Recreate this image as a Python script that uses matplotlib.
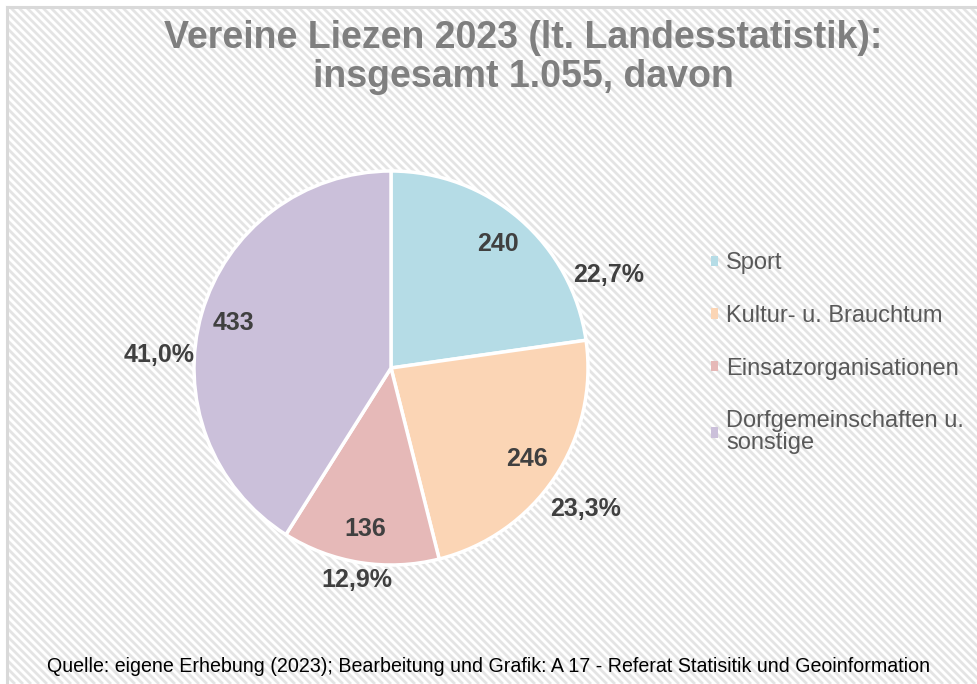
import numpy as np
import matplotlib.pyplot as plt
from matplotlib.patches import Patch
from matplotlib.collections import LineCollection

plt.rcParams['font.family'] = ['Liberation Sans', 'DejaVu Sans']

# data
categories = ['Sport', 'Kultur- u. Brauchtum', 'Einsatzorganisationen',
              'Dorfgemeinschaften u.\nsonstige']
counts = [240, 246, 136, 433]
pct_labels = ['22,7%', '23,3%', '12,9%', '41,0%']
colors = ['#b5dce6', '#fbd5b5', '#e6b9b8', '#cbc0da']

fig = plt.figure(figsize=(9.78, 6.84), dpi=100)
W, H = 978, 684

# hatched background (diagonal stripes, pixel units) with gray frame
bg_ax = fig.add_axes([7 / W, 0, 1 - 7 / W, 1 - 7 / H], zorder=0)
bw, bh = W - 7, H - 7
bg_ax.set_xlim(0, bw)
bg_ax.set_ylim(0, bh)
bg_ax.axis('off')
step = 8
offs = np.arange(0, bw + bh + step, step)
segs = [[(c - bh, bh), (c, 0)] for c in offs]
bg_ax.add_collection(LineCollection(segs, colors='#e4e4e4', linewidths=2.0))
fig.add_artist(plt.Line2D([7 / W, 7 / W], [0, 1 - 7 / H], transform=fig.transFigure,
                          color='#d9d9d9', linewidth=2.2))
fig.add_artist(plt.Line2D([7 / W, 1], [1 - 7 / H, 1 - 7 / H], transform=fig.transFigure,
                          color='#d9d9d9', linewidth=2.2))

# pie axes: centre (391, 368), radius ~197 px
r = 197
ax = fig.add_axes([(391 - r) / W, (H - 368 - r) / H, 2 * r / W, 2 * r / H], zorder=2)
ax.patch.set_visible(False)
wedges, _ = ax.pie(counts, colors=colors, startangle=90, counterclock=False,
                   wedgeprops=dict(edgecolor='white', linewidth=2.5))
ax.set_aspect('equal')
ax.set_xlim(-1, 1)
ax.set_ylim(-1, 1)

# labels
nudge = [-26, -2, 0, 13]
pct_r = [1.2, 1.22, 1.09, 1.18]
for w, c, p, dn, pr in zip(wedges, counts, pct_labels, nudge, pct_r):
    mid = np.deg2rad((w.theta1 + w.theta2) / 2)
    ax.text(0.83 * np.cos(mid), 0.83 * np.sin(mid), str(c), ha='center', va='center',
            fontsize=18, fontweight='bold', color='#404040')
    a = mid + np.deg2rad(dn)
    ax.text(pr * np.cos(a), pr * np.sin(a), p, ha='center', va='center',
            fontsize=18, fontweight='bold', color='#404040', clip_on=False)

fig.text(523 / W, 1 - 38 / H, 'Vereine Liezen 2023 (lt. Landesstatistik):', ha='center',
         va='center', fontsize=27, fontweight='bold', color='#7f7f7f', zorder=3)
fig.text(523 / W, 1 - 77 / H, 'insgesamt 1.055, davon', ha='center',
         va='center', fontsize=27, fontweight='bold', color='#7f7f7f', zorder=3)

handles = [Patch(facecolor=c, edgecolor='none') for c in colors]
leg = fig.legend(handles, categories, loc='upper left',
                 bbox_to_anchor=(690 / W, 1 - 231 / H), frameon=False,
                 fontsize=17, labelcolor='#595959', handlelength=0.3, handleheight=0.3,
                 handletextpad=0.34, labelspacing=1.3)
for t in leg.get_texts():
    t.set_linespacing(1.0)
leg.set_zorder(3)

fig.text(0.5, 1 - 667 / H,
         'Quelle: eigene Erhebung (2023); Bearbeitung und Grafik: A 17 - Referat Statisitik und Geoinformation',
         ha='center', va='center', fontsize=14.1, color='black', zorder=3)

fig.savefig('out.png', dpi=100)
